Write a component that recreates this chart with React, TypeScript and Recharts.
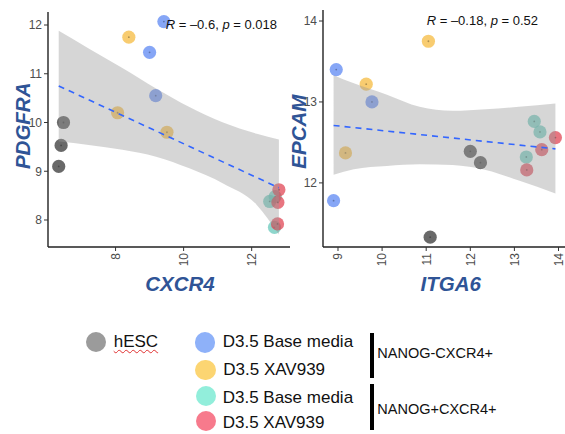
import { Area, ComposedChart, Label, Line, Scatter, XAxis, YAxis } from "recharts";

// groups: hESC, NANOG-CXCR4+ base, NANOG-CXCR4+ XAV939, NANOG+CXCR4+ base, NANOG+CXCR4+ XAV939
const pointColors = ["#292929", "#5280f2", "#f5b633", "#5ec5b6", "#de3b4a"];
const legendColors = ["#9b9b9b", "#8eb1f9", "#fcd572", "#92eedb", "#f77a8c"];
const legendLabels = ["hESC", "D3.5 Base media", "D3.5 XAV939", "D3.5 Base media", "D3.5 XAV939"];
const bracketLabels = ["NANOG-CXCR4+", "NANOG+CXCR4+"];

// one inner array per group
const cxcr4 = [[6.47, 6.4, 6.33], [9.42, 9.0, 9.18], [8.39, 8.06, 9.51], [12.53, 12.67, 12.69], [12.8, 12.77, 12.76]];
const pdgfra = [[10.0, 9.53, 9.1], [12.07, 11.44, 10.55], [11.75, 10.2, 9.8], [8.38, 7.85, 8.48], [8.62, 8.36, 7.92]];
const itga6 = [[12.0, 12.23, 11.09], [8.96, 9.77, 8.9], [11.05, 9.64, 9.17], [13.45, 13.58, 13.27], [13.93, 13.62, 13.28]];
const epcam = [[12.39, 12.25, 11.33], [13.4, 13.0, 11.78], [13.75, 13.22, 12.37], [12.76, 12.63, 12.32], [12.56, 12.41, 12.16]];

// lm fit and its confidence band
const bandX1 = [6.33, 7.21, 8.2, 9.19, 10.17, 11.16, 12.15, 12.8];
const bandHi1 = [11.88, 11.52, 11.12, 10.7, 10.32, 10.0, 9.77, 9.65];
const bandLo1 = [9.61, 9.54, 9.44, 9.3, 9.06, 8.75, 8.31, 7.7];
const fitX1 = [6.33, 12.8];
const fitY1 = [10.75, 8.66];

const bandX2 = [8.9, 9.36, 10.11, 10.85, 11.6, 12.35, 13.1, 13.93];
const bandHi2 = [13.33, 13.23, 13.09, 12.94, 12.89, 12.91, 12.94, 12.98];
const bandLo2 = [12.1, 12.17, 12.21, 12.23, 12.22, 12.16, 12.03, 11.87];
const fitX2 = [8.9, 13.93];
const fitY2 = [12.71, 12.42];

const FONT = "'Liberation Sans', Arial, sans-serif";
const TITLE_BLUE = "#2f5496";

const RotatedTick = (props: any) => {
  const { x, y, payload } = props;
  return (
    <text x={x} y={y} transform={`rotate(-90 ${x} ${y})`} textAnchor="end" dy="0.36em" fill="#4d4d4d" fontSize={12} fontFamily={FONT}>
      {payload.value}
    </text>
  );
};

const dotShape = (color: string) => (props: any) => (
  <g>
    <circle cx={props.cx} cy={props.cy} r={6.6} fill={color} fillOpacity={0.7} />
    <circle cx={props.cx} cy={props.cy} r={0.9} fill="#000" fillOpacity={0.3} />
  </g>
);

type PanelProps = {
  left: number;
  width: number;
  top: number;
  yAxisWidth: number;
  xs: number[][];
  ys: number[][];
  bandX: number[];
  bandLo: number[];
  bandHi: number[];
  fitX: number[];
  fitY: number[];
  xDomain: [number, number];
  yDomain: [number, number];
  xTicks: number[];
  yTicks: number[];
  xTitle: string;
  yTitle: string;
  xTitlePos: [number, number];
  yTitlePos: [number, number];
  r: string;
  p: string;
  statPos: [number, number];
};

function Panel(pp: PanelProps) {
  const height = 300;
  const band = pp.bandX.map((x, i) => ({ x, range: [pp.bandLo[i], pp.bandHi[i]] }));
  const fit = pp.fitX.map((x, i) => ({ x, y: pp.fitY[i] }));
  const groups = pp.xs.map((g, gi) => g.map((x, i) => ({ x, y: pp.ys[gi][i] })));
  return (
    <div style={{ position: "absolute", left: pp.left, top: 0, width: pp.width, height }}>
      <ComposedChart width={pp.width} height={height} margin={{ top: pp.top, right: 0, bottom: 0, left: 0 }}>
        <XAxis
          dataKey="x"
          type="number"
          domain={pp.xDomain}
          ticks={pp.xTicks}
          interval={0}
          allowDataOverflow
          height={height - 247}
          tickSize={4}
          tickMargin={2}
          axisLine={{ stroke: "#222", strokeWidth: 1.4 }}
          tickLine={{ stroke: "#333" }}
          tick={<RotatedTick />}
        >
          <Label
            content={() => (
              <text x={pp.xTitlePos[0]} y={pp.xTitlePos[1]} textAnchor="middle" fill={TITLE_BLUE} fontSize={20.5} fontWeight="bold" fontStyle="italic" fontFamily={FONT}>
                {pp.xTitle}
              </text>
            )}
          />
        </XAxis>
        <YAxis
          dataKey="y"
          type="number"
          domain={pp.yDomain}
          ticks={pp.yTicks}
          interval={0}
          allowDataOverflow
          width={pp.yAxisWidth}
          tickSize={4}
          tickMargin={2}
          axisLine={{ stroke: "#222", strokeWidth: 1.4 }}
          tickLine={{ stroke: "#333" }}
          tick={{ fill: "#4d4d4d", fontSize: 12, fontFamily: FONT }}
        >
          <Label
            content={() => (
              <text
                x={pp.yTitlePos[0]}
                y={pp.yTitlePos[1]}
                transform={`rotate(-90 ${pp.yTitlePos[0]} ${pp.yTitlePos[1]})`}
                textAnchor="middle"
                fill={TITLE_BLUE}
                fontSize={20.5}
                fontWeight="bold"
                fontStyle="italic"
                fontFamily={FONT}
              >
                {pp.yTitle}
              </text>
            )}
          />
        </YAxis>
        {groups.map((pts, gi) => (
          <Scatter key={gi} data={pts} shape={dotShape(pointColors[gi])} isAnimationActive={false} zIndex={50} />
        ))}
        <Area
          data={band}
          dataKey="range"
          type="monotone"
          stroke="none"
          fill="#999999"
          fillOpacity={0.4}
          isAnimationActive={false}
          zIndex={100}
        />
        <Line
          data={fit}
          dataKey="y"
          type="linear"
          stroke="#3366ff"
          strokeWidth={1.6}
          strokeDasharray="6 5"
          dot={false}
          activeDot={false}
          isAnimationActive={false}
          zIndex={400}
        />
      </ComposedChart>
      <svg width={pp.width} height={height} style={{ position: "absolute", left: 0, top: 0, pointerEvents: "none" }}>
        <text x={pp.statPos[0]} y={pp.statPos[1]} fontSize={13} fontFamily={FONT} fill="#111">
          <tspan fontStyle="italic">R</tspan>
          {` = \u2013${pp.r}, `}
          <tspan fontStyle="italic">p</tspan>
          {` = ${pp.p}`}
        </text>
      </svg>
    </div>
  );
}

const legendCircleY = [342, 342.5, 370, 395.8, 421];
const legendCircleX = [96.3, 205, 205.4, 205.8, 206];
const legendTextX = [113.7, 222.7, 223.3, 222.7, 222.7];
const legendTextTop = [333.3, 332.9, 360.6, 388.9, 413.9];

function Legend() {
  return (
    <>
      {legendLabels.map((label, i) => (
        <div key={i}>
          <div
            style={{
              position: "absolute",
              left: legendCircleX[i] - 10.2,
              top: legendCircleY[i] - 10.2,
              width: 20.4,
              height: 20.4,
              borderRadius: "50%",
              background: legendColors[i]
            }}
          />
          <span
            style={{
              position: "absolute",
              left: legendTextX[i],
              top: legendTextTop[i],
              fontSize: 17,
              lineHeight: "17px",
              whiteSpace: "nowrap",
              color: "#111",
              textDecoration: i === 0 ? "underline wavy #e03030" : "none",
              textDecorationThickness: 1,
              textUnderlineOffset: 2
            }}
          >
            {label}
          </span>
        </div>
      ))}
      {bracketLabels.map((label, i) => (
        <div key={label}>
          <div
            style={{
              position: "absolute",
              left: 369.5,
              top: i === 0 ? 332.7 : 384,
              width: 4,
              height: 45.5,
              background: "#000"
            }}
          />
          <span
            style={{
              position: "absolute",
              left: 377.3,
              top: i === 0 ? 346 : 402.4,
              fontSize: 14.5,
              lineHeight: "14.5px",
              whiteSpace: "nowrap",
              color: "#111"
            }}
          >
            {label}
          </span>
        </div>
      ))}
    </>
  );
}

export default function App() {
  return (
    <div
      style={{
        position: "absolute",
        left: 0,
        top: 0,
        width: 565,
        height: 434,
        overflow: "hidden",
        background: "#fff",
        fontFamily: FONT
      }}
    >
      <Panel
        left={0}
        width={290}
        top={12}
        yAxisWidth={48}
        xs={cxcr4}
        ys={pdgfra}
        bandX={bandX1}
        bandLo={bandLo1}
        bandHi={bandHi1}
        fitX={fitX1}
        fitY={fitY1}
        xDomain={[6.015, 13.126]}
        yDomain={[7.446, 12.267]}
        xTicks={[8, 10, 12]}
        yTicks={[8, 9, 10, 11, 12]}
        xTitle="CXCR4"
        yTitle="PDGFRA"
        xTitlePos={[180, 290.7]}
        yTitlePos={[30.5, 125.8]}
        r="0.6"
        p="0.018"
        statPos={[165.7, 29]}
      />
      <Panel
        left={280}
        width={286}
        top={10}
        yAxisWidth={43}
        xs={itga6}
        ys={epcam}
        bandX={bandX2}
        bandLo={bandLo2}
        bandHi={bandHi2}
        fitX={fitX2}
        fitY={fitY2}
        xDomain={[8.66, 14.17]}
        yDomain={[11.208, 14.136]}
        xTicks={[9, 10, 11, 12, 13, 14]}
        yTicks={[12, 13, 14]}
        xTitle="ITGA6"
        yTitle="EPCAM"
        xTitlePos={[170.8, 290.7]}
        yTitlePos={[26, 131.7]}
        r="0.18"
        p="0.52"
        statPos={[146.7, 25]}
      />
      <Legend />
    </div>
  );
}
